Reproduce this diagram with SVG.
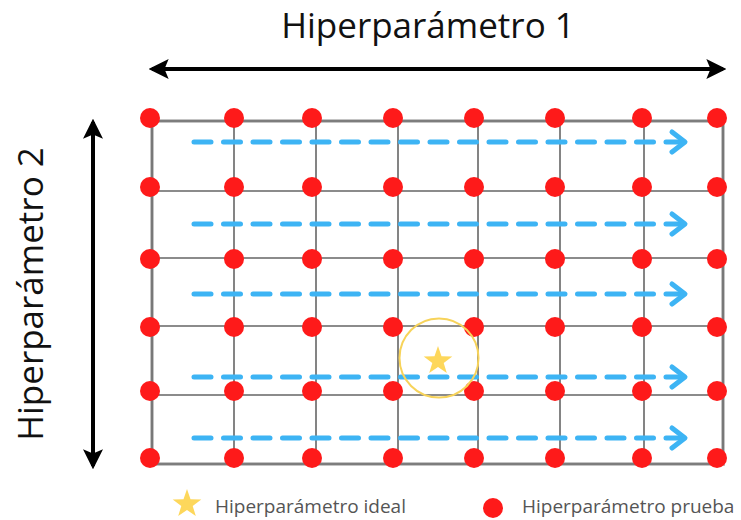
<svg xmlns="http://www.w3.org/2000/svg" width="741" height="520" viewBox="0 0 741 520">
  <style>
    .axis { stroke: #000; stroke-width: 4; fill: none; }
    .grid { stroke: #666; stroke-width: 1.6; fill: none; }
    .halo { stroke: #c4c4c4; stroke-width: 4; fill: none; }
    .sweep { stroke: #3db4f4; stroke-width: 5; stroke-linecap: round; fill: none; stroke-dasharray: 17 12.5; }
    .chev { stroke: #3db4f4; stroke-width: 5; stroke-linecap: round; stroke-linejoin: round; fill: none; }
    .pt { fill: #fe1a1a; }
    .title { font-family: "Open Sans", "Noto Sans", sans-serif; font-size: 35px; fill: #111; }
    .legend { font-family: "Open Sans", "Noto Sans", sans-serif; font-size: 19px; fill: #555; }
  </style>
  <defs>
    <marker id="head" viewBox="0 0 12 12" refX="10" refY="6" markerWidth="5" markerHeight="5" orient="auto-start-reverse" markerUnits="strokeWidth">
      <path d="M0,0 L12,6 L0,12 L2.5,6 Z" fill="#000"/>
    </marker>
    <path id="star" d="M0,-15 L3.5,-4.8 L14.3,-4.6 L5.7,1.9 L8.8,12.1 L0,6 L-8.8,12.1 L-5.7,1.9 L-14.3,-4.6 L-3.5,-4.8 Z"/>
    <circle id="dot" r="10"/>
  </defs>

  <!-- axis titles -->
  <text class="title" x="428" y="38" text-anchor="middle">Hiperparámetro 1</text>
  <text class="title" transform="translate(43,294) rotate(-90)" text-anchor="middle">Hiperparámetro 2</text>

  <!-- axis arrows -->
  <g id="axes">
    <line class="axis" x1="152" y1="69" x2="723" y2="69" marker-start="url(#head)" marker-end="url(#head)"/>
    <line class="axis" x1="93" y1="122" x2="93" y2="466" marker-start="url(#head)" marker-end="url(#head)"/>
  </g>

  <!-- search grid -->
  <g id="grid">
    <rect class="halo" x="152" y="121" width="571" height="343"/>
    <path class="grid" d="M152,121 H723 M152,191 H723 M152,258 H723 M152,326 H723 M152,395 H723 M152,464 H723
                          M152,121 V464 M234,121 V464 M316,121 V464 M398,121 V464 M478,121 V464 M560,121 V464 M644,121 V464 M723,121 V464"/>
  </g>

  <!-- sweep order across each row -->
  <g id="connectors">
    <line class="sweep" x1="194" y1="142" x2="684" y2="142"/>
    <polyline class="chev" points="672,132 685,142 672,152"/>
    <line class="sweep" x1="194" y1="224" x2="684" y2="224"/>
    <polyline class="chev" points="672,214 685,224 672,234"/>
    <line class="sweep" x1="194" y1="294" x2="684" y2="294"/>
    <polyline class="chev" points="672,284 685,294 672,304"/>
    <line class="sweep" x1="194" y1="377" x2="684" y2="377"/>
    <polyline class="chev" points="672,367 685,377 672,387"/>
    <line class="sweep" x1="194" y1="438" x2="684" y2="438"/>
    <polyline class="chev" points="672,428 685,438 672,448"/>
  </g>

  <!-- trial points -->
  <g id="points" class="pt">
    <g id="row1">
      <use href="#dot" x="150" y="118"/><use href="#dot" x="234" y="118"/><use href="#dot" x="312" y="118"/><use href="#dot" x="393" y="118"/>
      <use href="#dot" x="474" y="118"/><use href="#dot" x="555" y="118"/><use href="#dot" x="642" y="118"/><use href="#dot" x="717" y="118"/>
    </g>
    <g id="row2">
      <use href="#dot" x="150" y="187"/><use href="#dot" x="234" y="187"/><use href="#dot" x="312" y="187"/><use href="#dot" x="393" y="187"/>
      <use href="#dot" x="474" y="187"/><use href="#dot" x="555" y="187"/><use href="#dot" x="642" y="187"/><use href="#dot" x="717" y="187"/>
    </g>
    <g id="row3">
      <use href="#dot" x="150" y="259"/><use href="#dot" x="234" y="259"/><use href="#dot" x="312" y="259"/><use href="#dot" x="393" y="259"/>
      <use href="#dot" x="474" y="259"/><use href="#dot" x="555" y="259"/><use href="#dot" x="642" y="259"/><use href="#dot" x="717" y="259"/>
    </g>
    <g id="row4">
      <use href="#dot" x="150" y="327"/><use href="#dot" x="234" y="327"/><use href="#dot" x="312" y="327"/><use href="#dot" x="393" y="327"/>
      <use href="#dot" x="474" y="327"/><use href="#dot" x="555" y="327"/><use href="#dot" x="642" y="327"/><use href="#dot" x="717" y="327"/>
    </g>
    <g id="row5">
      <use href="#dot" x="150" y="391"/><use href="#dot" x="234" y="391"/><use href="#dot" x="312" y="391"/><use href="#dot" x="393" y="391"/>
      <use href="#dot" x="474" y="391"/><use href="#dot" x="555" y="391"/><use href="#dot" x="642" y="391"/><use href="#dot" x="717" y="391"/>
    </g>
    <g id="row6">
      <use href="#dot" x="150" y="458"/><use href="#dot" x="234" y="458"/><use href="#dot" x="312" y="458"/><use href="#dot" x="393" y="458"/>
      <use href="#dot" x="474" y="458"/><use href="#dot" x="555" y="458"/><use href="#dot" x="642" y="458"/><use href="#dot" x="717" y="458"/>
    </g>
  </g>

  <!-- ideal value -->
  <g id="ideal">
    <circle cx="439" cy="358" r="39.5" fill="none" stroke="#f7d35a" stroke-width="2"/>
    <use href="#star" x="438" y="361" fill="#fdd75b"/>
  </g>

  <!-- legend -->
  <g id="legend-ideal">
    <use href="#star" transform="translate(187,504)" fill="#fdd75b"/>
    <text class="legend" x="215" y="513">Hiperparámetro ideal</text>
  </g>
  <g id="legend-trial">
    <circle cx="493" cy="508" r="10" class="pt"/>
    <text class="legend" x="522" y="513">Hiperparámetro prueba</text>
  </g>
</svg>
